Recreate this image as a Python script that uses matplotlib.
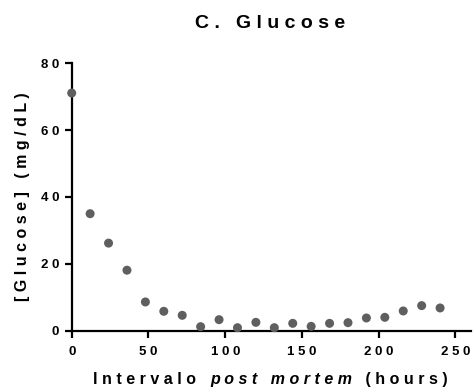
import numpy as np
import matplotlib
matplotlib.use("Agg")
from matplotlib import pyplot as plt
from matplotlib.offsetbox import TextArea, HPacker, AnchoredOffsetbox

# sampling times (hours) and glucose values (mg/dL)
hours = [0, 12, 24, 36, 48, 60, 72, 84, 96, 108, 120, 132, 144, 156, 168, 180, 192, 204, 216, 228, 240]
glucose = [71.1, 35.0, 26.2, 18.1, 8.6, 5.8, 4.6, 1.2, 3.3, 0.9, 2.5, 0.9, 2.2, 1.3, 2.2, 2.4, 3.8, 4.0, 5.9, 7.5, 6.8]
xticks = [0, 50, 100, 150, 200, 250]
yticks = [0, 20, 40, 60, 80]

plt.rcParams['font.family'] = ['Liberation Sans', 'DejaVu Sans']


def sp(s):
    # wide letter tracking like the original
    return " ".join(s)


fig = plt.figure(figsize=(4.73, 3.88), dpi=100)
ax = fig.add_axes([0.1516, 0.1477, 0.8437, 0.6892])

ax.scatter(hours, glucose, s=42, color='#5f5f5f', edgecolors='none', zorder=3, clip_on=False)

ax.set_xlim(0, 260)
ax.set_ylim(0, 80)
ax.set_xticks(xticks)
ax.set_xticklabels([sp(str(t)) for t in xticks])
ax.set_yticks(yticks)
ax.set_yticklabels([sp(str(t)) for t in yticks])

for s in ['top', 'right']:
    ax.spines[s].set_visible(False)
for s in ['left', 'bottom']:
    ax.spines[s].set_linewidth(1.6)
ax.tick_params(direction='out', length=5, width=1.6, labelsize=9.5)
ax.tick_params(axis='x', pad=6)
ax.tick_params(axis='y', pad=4)
for lab in ax.get_xticklabels() + ax.get_yticklabels():
    lab.set_fontweight('bold')

ax.set_ylabel(sp("[Glucose]") + "   " + sp("(mg/dL)"), fontsize=11.5, fontweight='bold', labelpad=8)
fig.text(0.572, 0.94, sp("C. Glucose"), ha='center', va='center', fontsize=14, fontweight='bold')

# x label with italic "post mortem"
parts = [
    TextArea(sp("Intervalo") + "   ", textprops=dict(fontsize=11.5, fontweight='bold')),
    TextArea(sp("post") + "   " + sp("mortem"), textprops=dict(fontsize=11.5, fontweight='bold', style='italic')),
    TextArea("   " + sp("(hours)"), textprops=dict(fontsize=11.5, fontweight='bold')),
]
box = HPacker(children=parts, align='baseline', pad=0, sep=0)
anch = AnchoredOffsetbox(loc='center', child=box, pad=0, frameon=False,
                         bbox_to_anchor=(0.572, 0.022), bbox_transform=fig.transFigure, borderpad=0)
fig.add_artist(anch)

fig.savefig("out.png", dpi=100)
